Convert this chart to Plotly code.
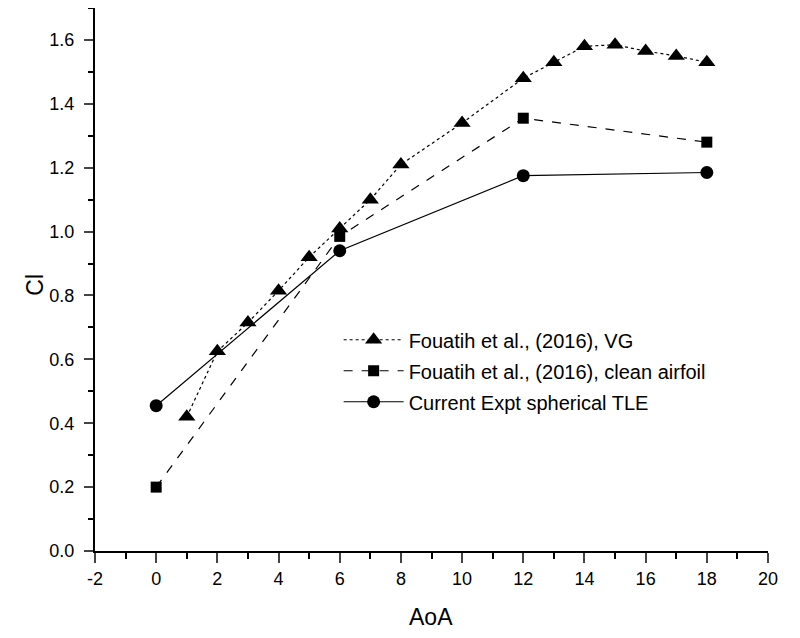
import plotly.graph_objects as go

vg_x = [1, 2, 3, 4, 5, 6, 7, 8, 10, 12, 13, 14, 15, 16, 17, 18]
vg_y = [0.42, 0.625, 0.715, 0.815, 0.92, 1.01, 1.10, 1.21, 1.34, 1.48, 1.53, 1.58, 1.585, 1.565, 1.55, 1.53]

clean_x = [0, 6, 12, 18]
clean_y = [0.20, 0.985, 1.355, 1.28]

cur_x = [0, 6, 12, 18]
cur_y = [0.455, 0.94, 1.175, 1.185]

x_ticks = [-2, 0, 2, 4, 6, 8, 10, 12, 14, 16, 18, 20]
x_tick_labels = ["-2", "0", "2", "4", "6", "8", "10", "12", "14", "16", "18", "20"]
y_ticks = [0.0, 0.2, 0.4, 0.6, 0.8, 1.0, 1.2, 1.4, 1.6]

fig = go.Figure()
fig.add_trace(go.Scatter(x=vg_x, y=vg_y, mode="lines+markers", name="Fouatih et al., (2016), VG",
                         legendgroup="a",
                         line=dict(color="black", width=1.2, dash="dot"),
                         marker=dict(symbol="triangle-up", size=15, color="black")))
fig.add_trace(go.Scatter(x=clean_x, y=clean_y, mode="lines+markers", name="Fouatih et al., (2016), clean airfoil",
                         legendgroup="b",
                         line=dict(color="black", width=1.2, dash="dash"),
                         marker=dict(symbol="square", size=11, color="black")))
fig.add_trace(go.Scatter(x=cur_x, y=cur_y, mode="lines+markers", name="Current Expt spherical TLE",
                         legendgroup="c",
                         line=dict(color="black", width=1.2),
                         marker=dict(symbol="circle", size=13, color="black")))

font = "Arial, Liberation Sans, sans-serif"
fig.update_layout(
    width=800, height=638,
    margin=dict(l=87, r=40, t=0, b=95),
    paper_bgcolor="white", plot_bgcolor="white",
    font=dict(family=font, color="black", size=18),
    legend=dict(x=0.362, y=0.425, xanchor="left", yanchor="top",
                font=dict(size=20, family=font), bgcolor="rgba(0,0,0,0)",
                itemwidth=60, tracegroupgap=2),
    xaxis=dict(range=[-2, 20], tickvals=x_ticks, ticktext=x_tick_labels, ticks="outside", ticklen=10, tickwidth=2,
               showline=True, linecolor="black", linewidth=2, showgrid=False, zeroline=False,
               automargin=False,
               minor=dict(dtick=1, ticks="outside", ticklen=6, tickwidth=2, tickcolor="black"),
               tickfont=dict(size=18)),
    yaxis=dict(range=[0, 1.7], tickvals=y_ticks, tickformat=".1f", ticks="outside", ticklen=9, tickwidth=2,
               showline=True, linecolor="black", linewidth=2, showgrid=False, zeroline=False,
               automargin=False, ticklabelstandoff=6, ticklabelposition="outside",
               minor=dict(dtick=0.1, ticks="outside", ticklen=5, tickwidth=2, tickcolor="black"),
               tickfont=dict(size=18)),
    annotations=[
        dict(text="AoA", xref="paper", yref="paper", x=0.499, y=-0.1215, xanchor="center", yanchor="middle",
             showarrow=False, font=dict(size=23, family=font)),
        dict(text="Cl", xref="paper", yref="paper", x=-0.0895, y=0.49, xanchor="center", yanchor="middle",
             textangle=-90, showarrow=False, font=dict(size=23, family=font)),
    ],
)
fig.write_html("out.html")
